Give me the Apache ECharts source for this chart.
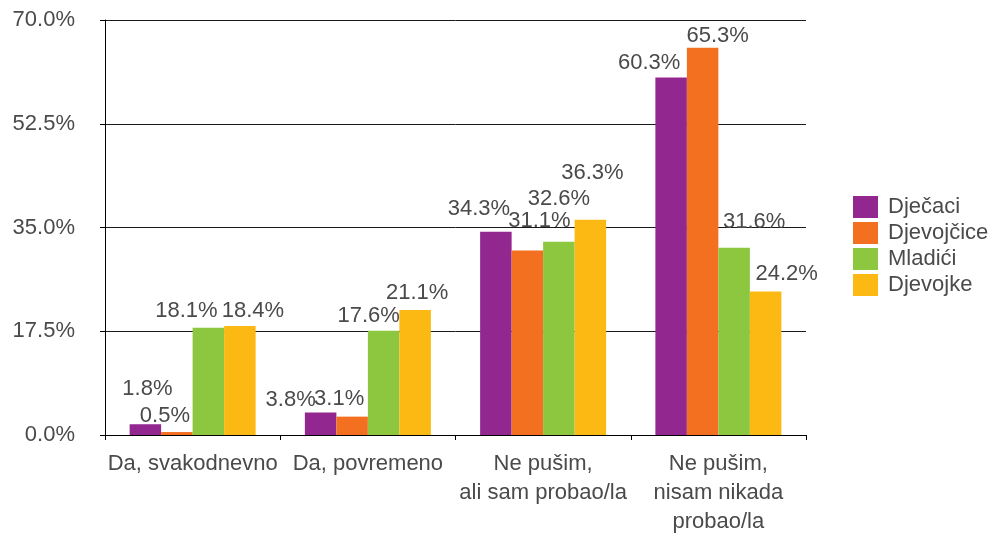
<!DOCTYPE html>
<html lang="hr">
<head>
  <meta charset="UTF-8">
  <title>Pušenje</title>
  <script src="https://cdn.jsdelivr.net/npm/echarts@6/dist/echarts.min.js"></script>
</head>
<body style="margin:0">
  <div id="main" style="width:992px;height:536px;"></div>
  <script>
  var categories = ['Da, svakodnevno', 'Da, povremeno', 'Ne pušim,\nali sam probao/la', 'Ne pušim,\nnisam nikada\nprobao/la']
  var names = ['Dječaci', 'Djevojčice', 'Mladići', 'Djevojke']
  var djecaci = [1.8, 3.8, 34.3, 60.3]
  var djevojcice = [0.5, 3.1, 31.1, 65.3]
  var mladici = [18.1, 17.6, 32.6, 31.6]
  var djevojke = [18.4, 21.1, 36.3, 24.2]
  var yTicks = [0, 17.5, 35, 52.5, 70]

  var colors = ['#92278F', '#F37021', '#8DC63F', '#FDB913']
  // label nudges, the original labels are not all straight above the bars
  var labelShift = [
    [[2, -22], [-30, 0], [-17, -10], [-22, -2]],
    [[-12, -3], [-13, -5], [12, -17], [15, 1]],
    [[-22, -4], [-15, -2], [0, -30], [20, -13]],
    [[13, -2], [2, -4], [2, -34], [21, -5]]
  ]
  var font = '"Helvetica Neue", "Liberation Sans", Arial, sans-serif'
  var textColor = '#4a4a4a'

  var myChart = echarts.init(document.getElementById('main'))
  var series = [djecaci, djevojcice, mladici, djevojke].map(function (vals, s) {
    return {
      name: names[s],
      type: 'bar',
      barWidth: 31.5,
      barGap: '0%',
      itemStyle: { color: colors[s] },
      label: {
        show: true,
        position: 'top',
        distance: 2,
        fontFamily: font,
        fontSize: 22,
        color: textColor,
        formatter: function (p) { return p.value.toFixed(1) + '%' }
      },
      data: vals.map(function (v, i) {
        return { value: v, label: { offset: labelShift[s][i] } }
      })
    }
  })

  var option = {
    animation: false,
    textStyle: { fontFamily: font },
    grid: { left: 105, right: 186, top: 20, bottom: 99 },
    legend: {
      orient: 'vertical',
      left: 853,
      top: 196,
      padding: 0,
      itemWidth: 25,
      itemHeight: 22,
      itemGap: 4,
      icon: 'rect',
      textStyle: { fontFamily: font, fontSize: 22, color: textColor, lineHeight: 22, padding: [0, 0, 0, 5] },
      data: names
    },
    xAxis: {
      type: 'category',
      data: categories,
      axisLine: { lineStyle: { color: '#000', width: 1 } },
      axisTick: { show: true, length: 5, lineStyle: { color: '#000' } },
      axisLabel: {
        interval: 0,
        margin: 14,
        fontFamily: font,
        fontSize: 22,
        lineHeight: 29,
        color: textColor
      }
    },
    yAxis: {
      type: 'value',
      min: yTicks[0],
      max: yTicks[yTicks.length - 1],
      interval: yTicks[1] - yTicks[0],
      axisLine: { show: true, lineStyle: { color: '#000', width: 1 } },
      axisTick: { show: true, length: 5, lineStyle: { color: '#000' } },
      splitLine: { lineStyle: { color: '#1a1a1a', width: 1 } },
      axisLabel: {
        margin: 30,
        fontFamily: font,
        fontSize: 22,
        color: textColor,
        formatter: function (v) { return v.toFixed(1) + '%' }
      }
    },
    series: series
  }
  myChart.setOption(option)
  </script>
</body>
</html>
